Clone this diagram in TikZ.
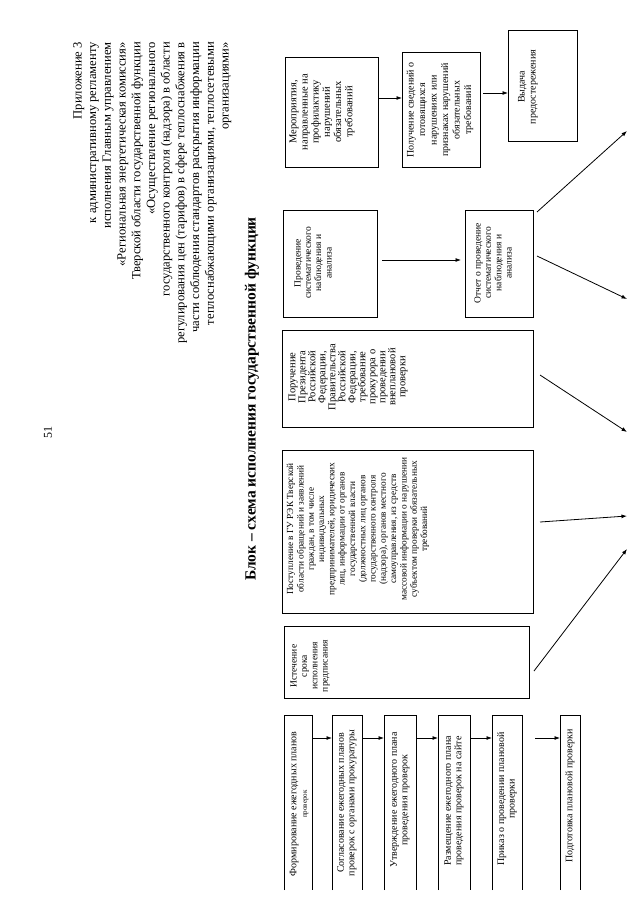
\documentclass[tikz,border=0pt]{standalone}
\usepackage{fontspec}
\setmainfont{Liberation Serif}
\usetikzlibrary{arrows.meta}
\newcommand{\fsz}[2]{\fontsize{#1}{#2}\selectfont}
\begin{document}
\begin{tikzpicture}[x=1pt,y=-1pt,
  box/.style={draw, line width=0.75pt, inner sep=0pt, outer sep=0pt},
  openbox/.style={draw=none, inner sep=0pt, outer sep=0pt, minimum height=175pt},
  txt/.style={rotate=90, align=center, inner sep=0pt, font=\fsz{9.5}{10.3}},
  arr/.style={-{Latex[length=5.5pt,width=4pt]}, line width=0.8pt},
  side/.style={line width=0.75pt}]
\useasboundingbox (0,0) rectangle (639,905);

% page number, header, title
\node[rotate=90, inner sep=0pt, font=\fsz{12}{14}] (pnum) at (48,432) {51};
\node[rotate=90, anchor=north east, align=right, inner sep=0pt, font=\fsz{12.6}{14.7}] (head) at (73,42)
 {Приложение 3\\
  к административному регламенту\\
  исполнения Главным управлением\\
  «Региональная энергетическая комиссия»\\
  Тверской области государственной функции\\
  «Осуществление регионального\\
  государственного контроля (надзора) в области\\
  регулирования цен (тарифов) в сфере теплоснабжения в\\
  части соблюдения стандартов раскрытия информации\\
  теплоснабжающими организациями, теплосетевыми\\
  организациями»};
\node[rotate=90, inner sep=0pt, font=\fsz{15.5}{18}\bfseries] (title) at (252,399)
 {Блок – схема исполнения государственной функции};

% boxes
\node[box, minimum width=93pt, minimum height=110pt] (mer) at (331.5,112) {};
\node[box, minimum width=78pt, minimum height=115pt] (pol) at (441,109.5) {};
\node[box, minimum width=69pt, minimum height=111pt] (vyd) at (542.5,85.5) {};
\node[box, minimum width=94pt, minimum height=107pt] (prov) at (330,263.5) {};
\node[box, minimum width=68pt, minimum height=107pt] (otch) at (499,263.5) {};
\node[box, minimum width=251pt, minimum height=97pt] (poruch) at (407.5,378.5) {};
\node[box, minimum width=251pt, minimum height=163pt] (post) at (407.5,531.5) {};
\node[box, minimum width=245pt, minimum height=72pt] (ist) at (406.5,662) {};

% texts in boxes
\node[txt, font=\fsz{10.5}{11.2}] (tmer) at (322,112) {Мероприятия,\\направленные на\\профилактику\\нарушений\\обязательных\\требований};
\node[txt, font=\fsz{10}{11.5}] (tpol) at (440,110) {Получение сведений о\\готовящихся\\нарушениях или\\признаках нарушений\\обязательных\\требований};
\node[txt, font=\fsz{10}{11}] (tvyd) at (528,87) {Выдача\\предостережения};
\node[txt] (tprov) at (313,263) {Проведение\\систематического\\наблюдения и\\анализа};
\node[txt] (totch) at (493,263) {Отчет о проведение\\систематического\\наблюдения и\\анализа};
\node[txt, font=\fsz{10.5}{10}] (tporuch) at (348,377) {Поручение\\Президента\\Российской\\Федерации,\\Правительства\\Российской\\Федерации,\\требование\\прокурора о\\проведении\\внеплановой\\проверки};
\node[txt, font=\fsz{9.3}{10.3}] (tpost) at (358,529) {Поступление в ГУ РЭК Тверской\\области обращений и заявлений\\граждан, в том числе\\индивидуальных\\предпринимателей, юридических\\лиц, информации от органов\\государственной власти\\(должностных лиц органов\\государственного контроля\\(надзора), органов местного\\самоуправления, из средств\\массовой информации о нарушении\\субъектом проверки обязательных\\требований};
\node[txt] (tist) at (310,666) {Истечение\\срока\\исполнения\\предписания};

% left column (open at the page edge)
\node[openbox, minimum width=28pt] (form) at (298,802.5) {};
\node[openbox, minimum width=30pt] (sogl) at (347,802.5) {};
\node[openbox, minimum width=32pt] (utv) at (400,802.5) {};
\node[openbox, minimum width=32pt] (razm) at (454,802.5) {};
\node[openbox, minimum width=30pt] (prik) at (507,802.5) {};
\node[openbox, minimum width=20pt] (podg) at (570,802.5) {};
\foreach \b in {form,sogl,utv,razm,prik,podg}
  \draw[side] (\b.south west) -- (\b.north west) -- (\b.north east) -- (\b.south east);

\node[txt, font=\fsz{10}{10.5}] (tform) at (299,804) {Формирование ежегодных планов\\{\fsz{7}{8}проверок}};
\node[txt, font=\fsz{10}{10.5}] (tsogl) at (347,803) {Согласование ежегодных планов\\проверок с органами прокуратуры};
\node[txt, font=\fsz{10}{10.5}] (tutv) at (400,800) {Утверждение ежегодного плана\\проведения проверок};
\node[txt, font=\fsz{10}{10.5}] (trazm) at (454,801) {Размещение ежегодного плана\\проведения проверок на сайте};
\node[txt, font=\fsz{10}{10.5}] (tprik) at (507,799) {Приказ о проведении плановой\\проверки};
\node[txt, font=\fsz{10}{10.5}] (tpodg) at (570,796) {Подготовка плановой проверки};

% connectors
\draw[arr] (mer.east |- 0,98) -- (pol.west |- 0,98);
\draw[arr] (pol.east |- 0,93) ++(3,0) -- (vyd.west |- 0,93);
\draw[arr] (prov.east |- 0,260) ++(5,0) -- ([xshift=-4pt]otch.west |- 0,260);
\draw[arr] (form.east |- 0,738) -- (sogl.west |- 0,738);
\draw[arr] (sogl.east |- 0,738) -- (utv.west |- 0,738);
\draw[arr] (utv.east |- 0,738) -- (razm.west |- 0,738);
\draw[arr] (razm.east |- 0,738) -- (prik.west |- 0,738);
\coordinate (pk) at (535,738);
\draw[arr] (pk) -- (podg.west |- pk);

\coordinate (e1) at (627,131);
\coordinate (e2) at (627,299);
\coordinate (e3) at (627,432);
\coordinate (e4) at (627,516);
\coordinate (e5) at (627,549);
\draw[arr] (otch.east |- 0,212) ++(4,0) -- (e1);
\draw[arr] (otch.east |- 0,256) ++(4,0) -- (e2);
\draw[arr] (poruch.east |- 0,375) ++(7,0) -- (e3);
\draw[arr] (post.east |- 0,522) ++(7,0) -- (e4);
\draw[arr] (ist.east |- 0,671) ++(5,0) -- (e5);
\end{tikzpicture}
\end{document}
